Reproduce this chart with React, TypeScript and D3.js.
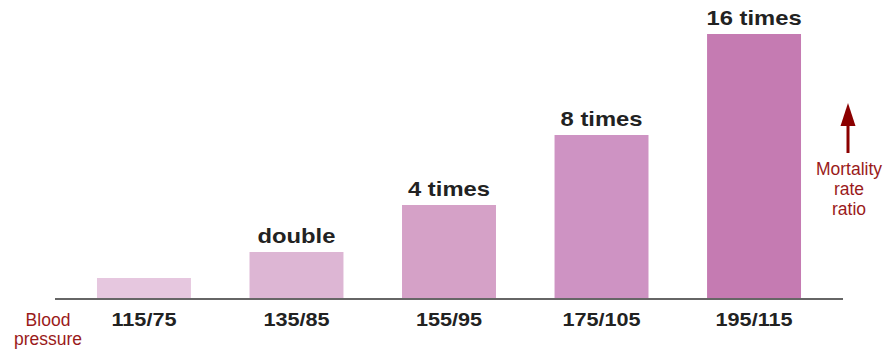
import React from 'react';
import {scaleBand, scaleLinear} from 'd3';

// blood pressure categories and mortality ratio (bar heights, 115/75 = 1)
const pressures = ['115/75', '135/85', '155/95', '175/105', '195/115'];
const ratios = [1, 2.3, 4.65, 8.15, 13.2];
const ratioLabels = ['', 'double', '4 times', '8 times', '16 times'];
const barColors = ['#e6c7df', '#ddb6d4', '#d5a1c7', '#ce93c3', '#c57bb2'];

const W = 883;
const H = 350;
const baseY = 298;

export default function App() {
  const x = scaleBand<string>()
    .domain(pressures)
    .range([67.7, 830.3])
    .paddingInner(0.384)
    .paddingOuter(0.192);
  const y = scaleLinear().domain([0, 13.2]).range([baseY, 34]);

  const bold = {fontFamily: '"Liberation Sans", Arial, sans-serif', fontWeight: 700, fill: '#222'};
  const red = '#9a1a1a';

  return (
    <svg width={W} height={H} style={{position: 'absolute', left: 0, top: 0, background: '#fff'}}>
      {pressures.map((p, i) => (
        <rect key={p} x={x(p)} y={y(ratios[i])} width={x.bandwidth()} height={baseY - y(ratios[i])} fill={barColors[i]} />
      ))}
      <line x1={55} x2={843} y1={299} y2={299} stroke="#333" strokeWidth={1.6} />

      {pressures.map((p, i) => (
        <text key={'t' + p} transform={`translate(${x(p)! + x.bandwidth() / 2},${y(ratios[i]) - 9}) scale(1.16,1)`}
          textAnchor="middle" fontSize={20.5} {...bold}>{ratioLabels[i]}</text>
      ))}
      {pressures.map((p) => (
        <text key={'b' + p} transform={`translate(${x(p)! + x.bandwidth() / 2},326) scale(1.17,1)`}
          textAnchor="middle" fontSize={18.5} {...bold}>{p}</text>
      ))}

      <g fontFamily='"Liberation Sans", Arial, sans-serif' fontSize={17.5} fill={red} textAnchor="middle">
        <text x={48} y={326}>Blood</text>
        <text x={48} y={345}>pressure</text>
        <text x={849} y={175}>Mortality</text>
        <text x={849} y={195}>rate</text>
        <text x={849} y={215}>ratio</text>
      </g>
      <line x1={848} x2={848} y1={153} y2={123} stroke="#8b0000" strokeWidth={3} />
      <path d="M848,103 L855.5,126 L840.5,126 Z" fill="#8b0000" />
    </svg>
  );
}
